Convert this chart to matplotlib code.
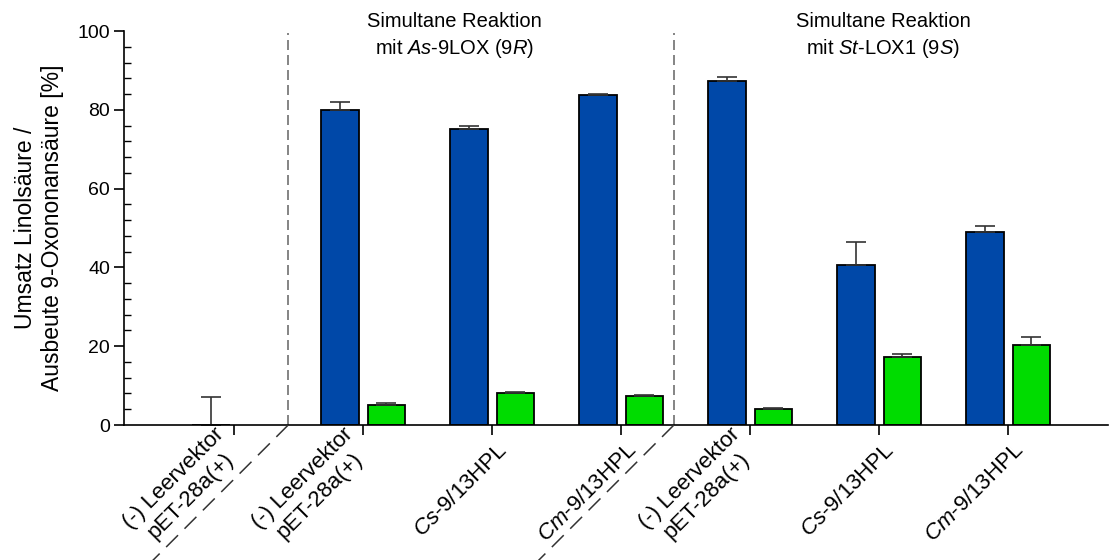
import numpy as np
import matplotlib.pyplot as plt
import matplotlib.transforms as mtransforms
from matplotlib.lines import Line2D
from matplotlib.ticker import MultipleLocator

plt.rcParams['font.family'] = ['Liberation Sans', 'DejaVu Sans']
plt.rcParams['mathtext.fontset'] = 'custom'
plt.rcParams['mathtext.rm'] = 'Liberation Sans'
plt.rcParams['mathtext.it'] = 'Liberation Sans:italic'

labels = ["(-) Leervektor\npET-28a(+)",
          "(-) Leervektor\npET-28a(+)",
          "$\\mathit{Cs}$-9/13HPL",
          "$\\mathit{Cm}$-9/13HPL",
          "(-) Leervektor\npET-28a(+)",
          "$\\mathit{Cs}$-9/13HPL",
          "$\\mathit{Cm}$-9/13HPL"]
umsatz = [0.0, 79.9, 75.2, 83.7, 87.3, 40.5, 48.9]
umsatz_err = [7.2, 2.1, 0.8, 0.3, 0.9, 5.9, 1.7]
ausbeute = [0.0, 5.0, 8.1, 7.4, 4.1, 17.3, 20.4]
ausbeute_err = [0.0, 0.6, 0.35, 0.3, 0.3, 0.7, 1.9]
sections = ["Simultane Reaktion\nmit $\\mathit{As}$-9LOX (9$\\mathit{R}$)",
            "Simultane Reaktion\nmit $\\mathit{St}$-LOX1 (9$\\mathit{S}$)"]

x = np.arange(len(labels))
w = 0.29
off = 0.18
sep = [0.42, 3.41]

fig = plt.figure(figsize=(11.09, 5.6), dpi=100)
ax = fig.add_axes([124 / 1109, 1 - 425 / 560, 984 / 1109, 394 / 560])

ekw = dict(ecolor='#333333', elinewidth=1.2, capsize=7.5, capthick=1.2)
ax.bar(x - off, umsatz, w, color='#0048a8', edgecolor='black', linewidth=1.3,
       yerr=[np.zeros(len(x)), umsatz_err], error_kw=ekw, zorder=2)
ax.bar(x[1:] + off, ausbeute[1:], w, color='#00dc00', edgecolor='black', linewidth=1.3,
       yerr=[np.zeros(len(x) - 1), ausbeute_err[1:]], error_kw=ekw, zorder=2)

ax.set_xlim(-0.853, 6.775)
ax.set_ylim(0, 100)

for s in sep:
    ax.axvline(s, ymin=0, ymax=0.995, color='#707070', lw=1.2, dashes=(6, 3), zorder=1)

for s, t in zip([1.71, 5.03], sections):
    ax.text(s, 98.8, t, ha='center', va='center', fontsize=14.5, linespacing=1.35)

ax.spines['top'].set_visible(False)
ax.spines['right'].set_visible(False)
ax.spines['left'].set_linewidth(1.2)
ax.spines['bottom'].set_linewidth(1.2)

ax.yaxis.set_major_locator(MultipleLocator(20))
ax.yaxis.set_minor_locator(MultipleLocator(4))
ax.tick_params(axis='y', which='major', direction='out', length=7, width=1.2,
               labelsize=14, pad=3)
ax.tick_params(axis='y', which='minor', direction='in', length=5, width=1)
ax.tick_params(axis='x', direction='out', length=7, width=1.2, pad=9)

ax.set_xticks(x)
ax.set_xticklabels(labels, rotation=45, ha='right', va='center', rotation_mode='anchor',
                   fontsize=16, multialignment='center')
# nudge the rotated labels; two-line ones sit a bit further left and up
for lab in ax.get_xticklabels():
    if '\n' in lab.get_text():
        dx, dy = -3, 5
    else:
        dx, dy = 9, 0
    shift = mtransforms.ScaledTranslation(dx / 72, dy / 72, fig.dpi_scale_trans)
    lab.set_transform(lab.get_transform() + shift)

ax.set_ylabel("Umsatz Linolsäure /\nAusbeute 9-Oxononansäure [%]", fontsize=16.5,
              linespacing=1.2, labelpad=10)

# diagonal separators continuing the dashed lines below the axis
fig.canvas.draw()
for s in sep:
    p0 = ax.transData.transform((s, 0))
    p1 = p0 + np.array([-140, -140])
    fig.add_artist(Line2D([p0[0], p1[0]], [p0[1], p1[1]], transform=None,
                          color='#333333', lw=1.1, dashes=(11, 6), clip_on=False))

fig.savefig('out.png', dpi=100)
